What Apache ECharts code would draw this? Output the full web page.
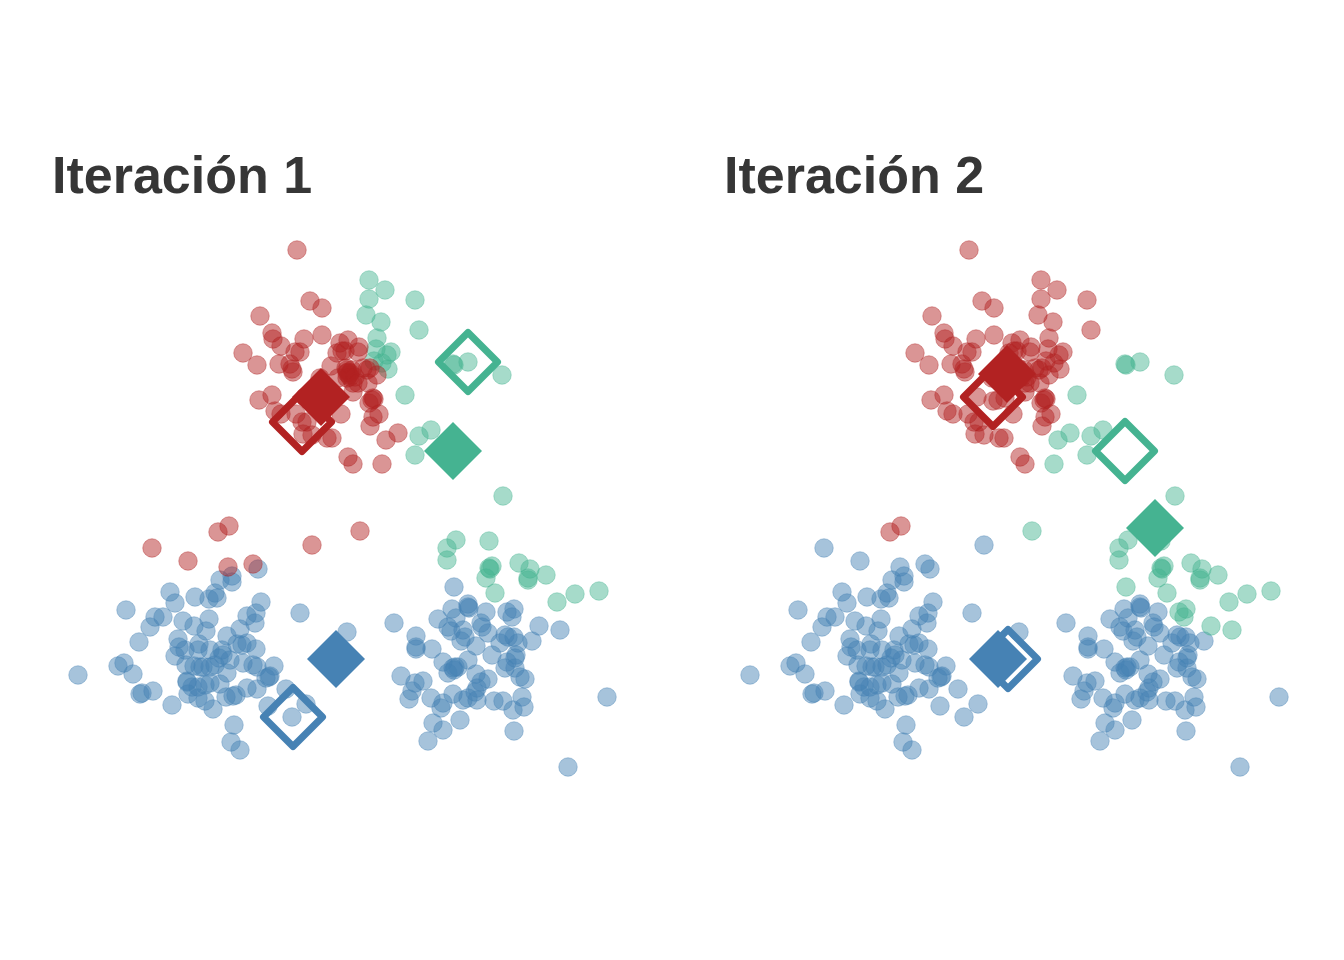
<!DOCTYPE html>
<html><head><meta charset="utf-8">
<style>html,body{margin:0;padding:0;background:#fff}#c{width:1344px;height:960px}</style>
<script src="https://cdn.jsdelivr.net/npm/echarts@6/dist/echarts.min.js"></script>
</head><body><div id="c"></div>
<script>
const titles = ['Iteración 1', 'Iteración 2'];
const RED = '178,34,34', GREEN = '69,179,145', BLUE = '70,130,180';
// point groups: named <cluster in iteration 1><cluster in iteration 2>
const redRed = [[297,250],[310,301],[322,308],[260,316],[272,333],[273,339],[281,346],[304,339],[322,335],[243,353],[257,365],[295,352],[300,352],[279,364],[290,364],[292,369],[293,372],[340,343],[348,340],[359,347],[337,353],[342,351],[345,351],[358,352],[331,366],[346,368],[348,372],[347,373],[352,370],[350,377],[349,375],[347,370],[350,373],[353,383],[347,378],[355,377],[368,383],[367,370],[370,368],[377,375],[363,368],[338,378],[358,383],[353,392],[373,398],[374,399],[369,403],[372,400],[379,414],[373,417],[370,426],[341,414],[348,457],[353,464],[272,395],[259,400],[275,411],[281,414],[296,414],[302,422],[307,422],[303,434],[312,435],[327,438],[332,438],[320,378],[305,397],[321,401],[326,400],[333,398],[218,532],[229,526]];
const redGreen = [[398,433],[386,440],[382,464],[360,531]];
const redBlue = [[152,548],[188,561],[228,567],[253,564],[312,545]];
const greenRed = [[369,280],[385,290],[369,299],[415,300],[366,315],[381,322],[419,330],[377,338],[376,349],[391,352],[387,355],[374,361],[382,363],[388,369]];
const greenGreen = [[453,364],[454,365],[468,362],[502,375],[405,395],[431,430],[419,436],[415,455],[503,496],[456,540],[447,548],[447,560],[489,541],[492,566],[489,568],[490,569],[486,578],[495,593],[519,563],[530,569],[528,578],[528,580],[546,575],[557,602],[575,594],[599,591]];
const blueGreen = [[454,587],[514,609],[507,612],[512,617],[539,626],[560,630]];
const blueBlue = [[78,675],[118,666],[124,663],[133,674],[140,694],[142,693],[153,691],[172,705],[126,610],[139,642],[150,627],[155,617],[163,617],[170,592],[175,603],[195,597],[209,599],[215,593],[217,598],[220,580],[232,576],[232,582],[258,569],[261,602],[256,613],[247,616],[255,623],[300,613],[347,632],[183,621],[194,626],[209,619],[206,631],[178,639],[179,647],[185,650],[199,644],[175,656],[186,665],[194,666],[198,650],[210,650],[227,636],[240,629],[237,644],[242,645],[247,643],[256,649],[222,650],[223,655],[219,658],[230,660],[243,663],[253,665],[257,667],[274,666],[200,667],[203,667],[210,667],[215,665],[227,673],[187,681],[187,682],[192,687],[198,687],[205,685],[210,683],[220,684],[188,694],[198,698],[205,701],[213,709],[226,697],[233,696],[236,695],[247,688],[257,689],[266,678],[269,677],[270,676],[286,689],[268,706],[306,704],[292,717],[234,725],[231,742],[240,750],[394,623],[438,619],[452,609],[468,604],[469,608],[468,607],[486,612],[532,641],[456,618],[448,627],[451,631],[463,630],[481,623],[482,627],[488,633],[465,637],[461,641],[476,646],[508,637],[505,635],[514,637],[518,643],[500,643],[416,636],[416,647],[416,649],[432,649],[492,655],[516,655],[515,658],[507,662],[505,668],[515,668],[520,677],[525,679],[468,660],[443,662],[448,673],[453,668],[455,667],[458,667],[454,670],[476,674],[488,679],[481,682],[477,688],[475,692],[401,676],[415,683],[423,681],[412,691],[409,699],[431,698],[453,694],[443,703],[441,708],[463,700],[468,698],[477,700],[494,701],[503,701],[522,697],[513,710],[524,707],[607,697],[433,723],[443,730],[428,741],[460,720],[514,731],[568,767]];
// centroids per panel: red, green, blue
const filled1 = [[321,397],[453,451],[336,659]];
const hollow1 = [[302,422],[468,362],[293,717]];
const filled2 = [[335,374],[483,528],[326,659]];
const hollow2 = [[321,397],[453,451],[336,659]];

const rgb = [RED, GREEN, BLUE];
function pts(i, name, data, c) {
  return {type:'scatter', name, xAxisIndex:i, yAxisIndex:i, data, symbol:'circle', symbolSize:18.5, silent:true, z:2,
    itemStyle:{color:`rgba(${c},0.48)`, borderColor:`rgba(${c},0.4)`, borderWidth:1, opacity:1}};
}
function cents(i, arr, isFilled) {
  return arr.map((d, k) => ({type:'scatter', xAxisIndex:i, yAxisIndex:i, data:[d], symbol:'diamond', silent:true, z:3,
    symbolSize: isFilled ? 58 : 59,
    itemStyle: isFilled ? {color:`rgb(${rgb[k]})`, opacity:1}
      : {color:'rgba(0,0,0,0)', borderColor:`rgb(${rgb[k]})`, borderWidth:7, borderJoin:'round', opacity:1}}));
}
const first = [[blueBlue.concat(blueGreen),BLUE],[greenGreen.concat(greenRed),GREEN],[redRed.concat(redGreen,redBlue),RED]];
const second = [[blueBlue.concat(redBlue),BLUE],[greenGreen.concat(redGreen,blueGreen),GREEN],[redRed.concat(greenRed),RED]];
const series = [];
first.forEach(([d,c],k)=>series.push(pts(0,'c'+k,d,c)));
second.forEach(([d,c],k)=>series.push(pts(1,'c'+k,d,c)));
series.push(...cents(0,hollow1,false),...cents(0,filled1,true),...cents(1,hollow2,false),...cents(1,filled2,true));
const axis = (max,inv,i)=>({type:'value',min:0,max,inverse:inv,show:false,gridIndex:i});
const chart = echarts.init(document.getElementById('c'),null,{renderer:'canvas'});
chart.setOption({
  animation:false, backgroundColor:'#fff',
  title: titles.map((t,i)=>({text:t,left:47+672*i,top:148,textStyle:{fontFamily:'Liberation Sans',fontWeight:'bold',fontSize:52,color:'#363636'}})),
  grid:[{left:0,top:0,width:672,height:960},{left:672,top:0,width:672,height:960}],
  xAxis:[axis(672,false,0),axis(672,false,1)],
  yAxis:[axis(960,true,0),axis(960,true,1)],
  series
});
</script></body></html>
